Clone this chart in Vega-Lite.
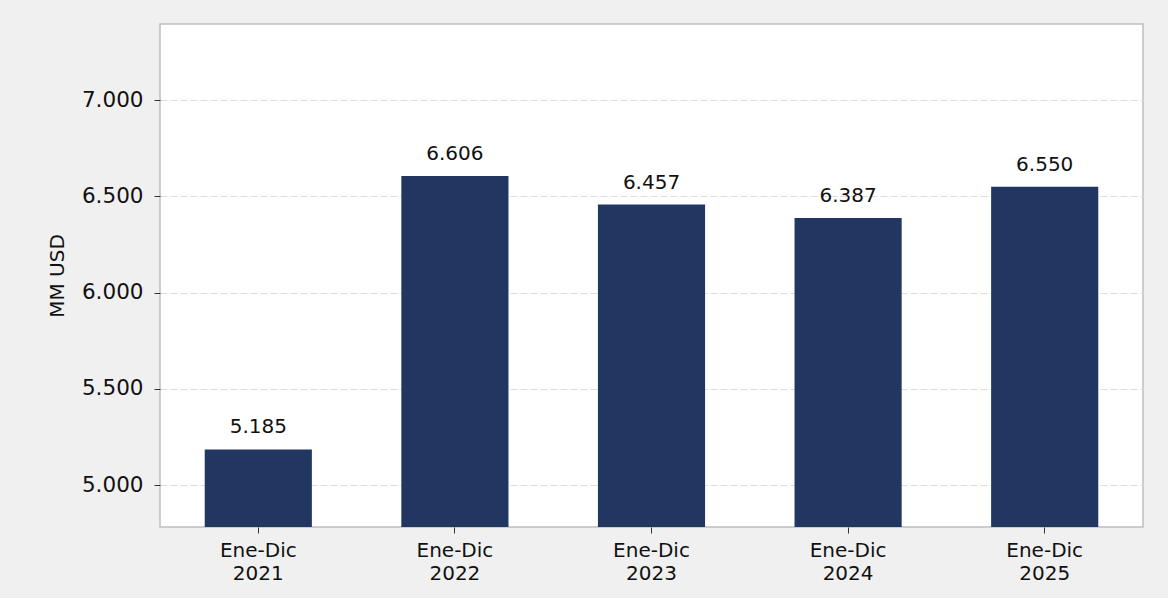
{
  "$schema": "https://vega.github.io/schema/vega-lite/v6.json",
  "autosize": "none",
  "width": 983,
  "height": 503,
  "padding": {"left": 160, "top": 24, "right": 25, "bottom": 71},
  "background": "#f0f0f0",
  "config": {
    "font": "DejaVu Sans",
    "locale": {"number": {"decimal": ",", "thousands": ".", "grouping": [3], "currency": ["$", ""]}},
    "view": {"fill": "white", "stroke": "#bfbfbf", "strokeWidth": 1.5}
  },
  "data": {
    "values": [
      {"periodo": "Ene-Dic 2021", "valor": 5185},
      {"periodo": "Ene-Dic 2022", "valor": 6606},
      {"periodo": "Ene-Dic 2023", "valor": 6457},
      {"periodo": "Ene-Dic 2024", "valor": 6387},
      {"periodo": "Ene-Dic 2025", "valor": 6550}
    ]
  },
  "encoding": {
    "x": {
      "field": "periodo",
      "type": "nominal",
      "sort": null,
      "scale": {"paddingInner": 0.455, "paddingOuter": 0.2275},
      "axis": {
        "title": null,
        "labelAngle": 0,
        "labelExpr": "split(datum.label, ' ')",
        "labelFontSize": 20,
        "labelColor": "#111",
        "labelLineHeight": 23,
        "labelPadding": 7,
        "tickSize": 6,
        "tickColor": "#333",
        "domain": false,
        "grid": false
      }
    },
    "y": {
      "field": "valor",
      "type": "quantitative",
      "scale": {"domain": [4782, 7395], "nice": false, "zero": false},
      "axis": {
        "title": "MM USD",
        "titleFontSize": 20,
        "titleFontWeight": "normal",
        "titleColor": "#111",
        "titlePadding": 14,
        "values": [5000, 5500, 6000, 6500, 7000],
        "format": ",d",
        "labelFontSize": 21.5,
        "labelColor": "#111",
        "labelPadding": 11,
        "tickSize": 6,
        "tickColor": "#333",
        "domain": false,
        "grid": true,
        "gridColor": "#dddddd",
        "gridDash": [7, 3],
        "gridWidth": 1.2
      }
    }
  },
  "layer": [
    {"mark": {"type": "bar", "color": "#213761", "clip": true}},
    {
      "mark": {"type": "text", "baseline": "alphabetic", "dy": -16, "fontSize": 20, "color": "#111"},
      "encoding": {"text": {"field": "valor", "type": "quantitative", "format": ",d"}}
    }
  ]
}
